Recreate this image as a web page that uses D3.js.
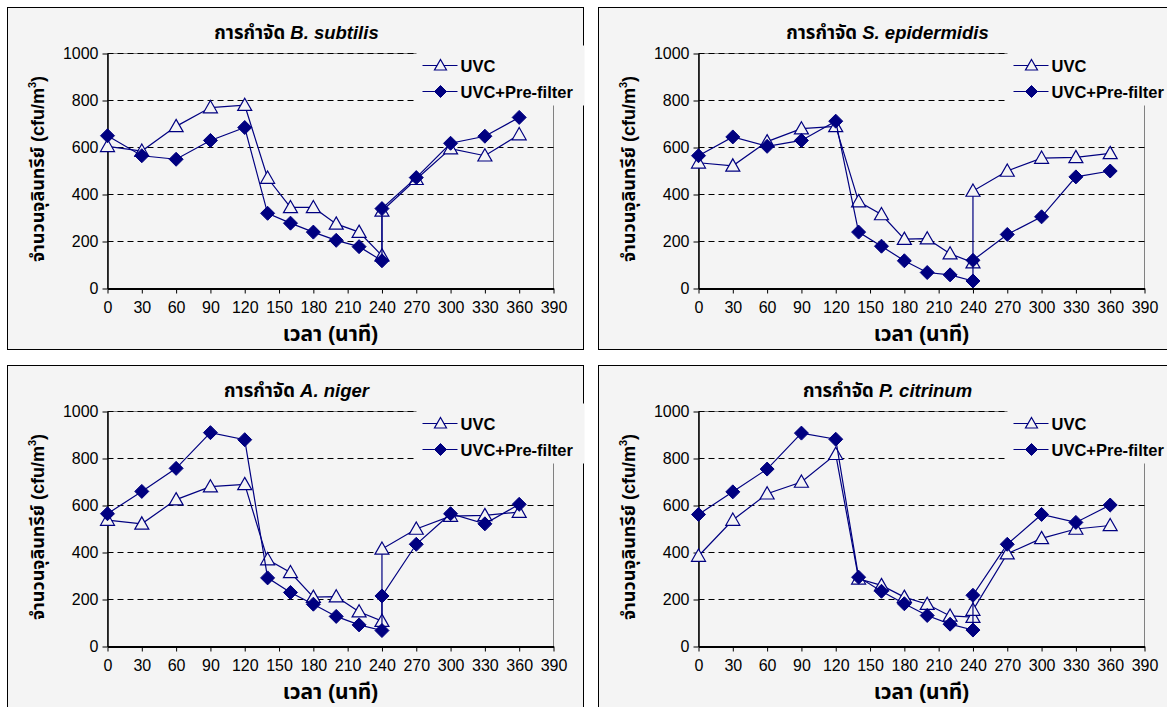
<!DOCTYPE html>
<html>
<head>
<meta charset="utf-8">
<script src="https://cdn.jsdelivr.net/npm/d3@7"></script>
<style>
  body { margin: 0; background: #ffffff; }
  svg { display: block; font-family: "Liberation Sans", Arial, sans-serif; }
  .thai { font-family: "Liberation Sans", Arial, "Noto Sans Thai", "Loma", "Garuda", "DejaVu Sans", sans-serif; }
</style>
</head>
<body>
<svg id="chart" width="1167" height="707"></svg>
<script>
// time points (minutes); 240 appears twice (reading before / after the jump)
const times = [0, 30, 60, 90, 120, 140, 160, 180, 200, 220, 240, 240, 270, 300, 330, 360];
const xTicks = [0, 30, 60, 90, 120, 150, 180, 210, 240, 270, 300, 330, 360, 390];
const yTicks = [0, 200, 400, 600, 800, 1000];
const seriesNames = ['UVC', 'UVC+Pre-filter'];
const organisms = ['B. subtilis', 'S. epidermidis', 'A. niger', 'P. citrinum'];

const uvcBsub = [605, 585, 690, 770, 780, 470, 345, 345, 275, 240, 140, 330, 465, 595, 565, 655];
const preBsub = [650, 565, 550, 630, 685, 320, 278, 240, 205, 178, 118, 340, 472, 618, 648, 728];

const uvcSepi = [535, 522, 625, 680, 690, 370, 315, 210, 212, 148, 110, 415, 500, 555, 558, 575];
const preSepi = [565, 645, 605, 630, 712, 240, 180, 118, 68, 58, 32, 120, 230, 305, 475, 500];

const uvcAnig = [538, 522, 625, 680, 690, 370, 315, 210, 212, 148, 108, 415, 500, 555, 558, 572];
const preAnig = [565, 660, 758, 910, 880, 292, 230, 180, 128, 92, 68, 215, 435, 565, 522, 605];

const uvcPcit = [385, 538, 650, 700, 818, 288, 260, 210, 180, 130, 125, 155, 395, 460, 500, 515];
const prePcit = [562, 658, 755, 908, 882, 295, 235, 182, 132, 95, 70, 218, 435, 562, 528, 602];

const panelData = [
  [uvcBsub, preBsub],
  [uvcSepi, preSepi],
  [uvcAnig, preAnig],
  [uvcPcit, prePcit]
];

const navy = '#000080';
const bg = '#f4f4f4';
const panelW = 576, panelH = 342;
const plot = { left: 100, top: 46, width: 446, height: 235 };
const panelPos = [[7, 7], [598, 7], [7, 365], [598, 365]];

const svg = d3.select('#chart');

function drawMarker(sel, kind, r) {
  if (kind === 0) {
    sel.append('path')
      .attr('d', `M0,${-r} L${r},${r * 0.75} L${-r},${r * 0.75} Z`)
      .attr('fill', bg)
      .attr('stroke', navy)
      .attr('stroke-width', 1.2);
  } else {
    sel.append('path')
      .attr('d', `M0,${-r} L${r},0 L0,${r} L${-r},0 Z`)
      .attr('fill', navy)
      .attr('stroke', navy)
      .attr('stroke-width', 1);
  }
}

function drawPanel(idx) {
  const [px, py] = panelPos[idx];
  const g = svg.append('g').attr('transform', `translate(${px + 0.5},${py + 0.5})`);

  g.append('rect')
    .attr('width', panelW).attr('height', panelH)
    .attr('fill', bg).attr('stroke', '#000').attr('stroke-width', 1);

  const x = d3.scaleLinear().domain([0, 390]).range([plot.left, plot.left + plot.width]);
  const y = d3.scaleLinear().domain([0, 1000]).range([plot.top + plot.height, plot.top]);

  // plot area border (thin gray)
  g.append('rect')
    .attr('x', plot.left).attr('y', plot.top)
    .attr('width', plot.width).attr('height', plot.height)
    .attr('fill', 'none').attr('stroke', '#808080').attr('stroke-width', 1);

  // gridlines
  g.append('g').selectAll('line').data(yTicks.filter(d => d > 0)).join('line')
    .attr('x1', plot.left).attr('x2', plot.left + plot.width)
    .attr('y1', d => Math.round(y(d))).attr('y2', d => Math.round(y(d)))
    .attr('stroke', '#000').attr('stroke-width', 1)
    .attr('stroke-dasharray', '6,4');

  // axes
  const xAxis = g.append('g')
    .attr('transform', `translate(0,${plot.top + plot.height})`)
    .call(d3.axisBottom(x).tickValues(xTicks).tickFormat(d3.format('d'))
      .tickSize(5).tickPadding(8).tickSizeOuter(0));
  xAxis.attr('font-size', 16);
  xAxis.select('.domain').attr('stroke-width', 2);
  const yAxis = g.append('g')
    .attr('transform', `translate(${plot.left},0)`)
    .call(d3.axisLeft(y).tickValues(yTicks).tickFormat(d3.format('d'))
      .tickSize(5).tickPadding(4).tickSizeOuter(0));
  yAxis.attr('font-size', 16);
  yAxis.select('.domain').attr('stroke-width', 1.5);
  g.selectAll('.tick text')
    .attr('font-family', '"Liberation Sans", Arial, sans-serif')
    .attr('fill', '#000');

  // series
  const line = d3.line().x((d, i) => x(times[i])).y(d => y(d));
  panelData[idx].forEach((vals, s) => {
    g.append('path')
      .datum(vals)
      .attr('d', line)
      .attr('fill', 'none')
      .attr('stroke', navy)
      .attr('stroke-width', 1.2);
    g.append('g').selectAll('g').data(vals).join('g')
      .attr('transform', (d, i) => `translate(${x(times[i])},${y(d)})`)
      .each(function() { drawMarker(d3.select(this), s, 7); });
  });

  // legend (opaque box covering plot corner)
  const leg = g.append('g').attr('transform', 'translate(409,38)');
  leg.append('rect').attr('width', 168).attr('height', 60).attr('fill', bg);
  seriesNames.forEach((name, s) => {
    const row = leg.append('g').attr('transform', `translate(0,${20 + s * 26})`);
    row.append('line').attr('x1', 6).attr('x2', 41).attr('y1', 0).attr('y2', 0)
      .attr('stroke', navy).attr('stroke-width', 1.2);
    const m = row.append('g').attr('transform', 'translate(24,0)');
    drawMarker(m, s, 6);
    row.append('text').attr('x', 44).attr('y', 6)
      .attr('font-size', 16.5).attr('font-weight', 'bold').text(name);
  });

  // title
  const title = g.append('text')
    .attr('class', 'thai')
    .attr('x', 289).attr('y', 31)
    .attr('text-anchor', 'middle')
    .attr('font-size', 18.5).attr('font-weight', 'bold');
  title.append('tspan').text('การกำจัด ');
  title.append('tspan').attr('font-style', 'italic').text(organisms[idx]);

  // y label
  const yl = g.append('text')
    .attr('class', 'thai')
    .attr('transform', `translate(36,${plot.top + plot.height / 2 - 2}) rotate(-90)`)
    .attr('text-anchor', 'middle')
    .attr('font-size', 18).attr('font-weight', 'bold');
  yl.append('tspan').text('จำนวนจุลินทรีย์ (cfu/m');
  yl.append('tspan').attr('dy', -8).attr('font-size', 11).text('3');
  yl.append('tspan').attr('dy', 8).text(')');

  // x label
  g.append('text')
    .attr('class', 'thai')
    .attr('x', plot.left + plot.width / 2).attr('y', 333)
    .attr('text-anchor', 'middle')
    .attr('font-size', 21).attr('font-weight', 'bold')
    .text('เวลา (นาที)');
}

panelData.forEach((d, i) => drawPanel(i));
</script>
</body>
</html>
